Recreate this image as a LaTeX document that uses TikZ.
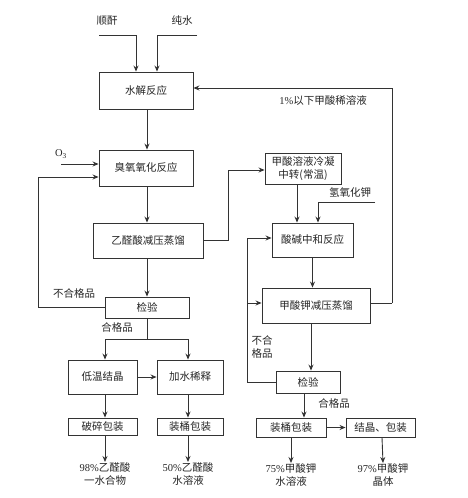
\documentclass[tikz,border=0pt]{standalone}
\usepackage{fontspec}
\setmainfont{Liberation Serif}
\newfontfamily\cjk{Noto Sans CJK SC}
\usetikzlibrary{arrows.meta,calc}
\begin{document}
\begin{tikzpicture}[x=1pt,y=-1pt,
  every node/.style={font=\cjk\fontsize{10.5}{13}\selectfont, text=black!85},
  box/.style={draw=black!80, line width=0.9pt, inner sep=0pt, align=center},
  lbl/.style={inner sep=0pt, align=center},
  arr/.style={draw=black!80, line width=0.9pt, -{Stealth[length=6pt,width=5pt]}},
  ln/.style={draw=black!80, line width=0.9pt}]
\path[use as bounding box, fill=white] (0,0) rectangle (468,498);
% boxes
\node[box, minimum width=94pt, minimum height=37pt] (sj) at (146,90.5) {水解反应};
\node[box, minimum width=94pt, minimum height=36pt] (cy) at (146,168) {臭氧氧化反应};
\node[box, minimum width=110pt, minimum height=35pt] (yq) at (148,240.5) {乙醛酸减压蒸馏};
\node[box, minimum width=84pt, minimum height=21pt] (jy1) at (147,307.5) {检验};
\node[box, minimum width=69pt, minimum height=34pt] (dw) at (102.5,377) {低温结晶};
\node[box, minimum width=66pt, minimum height=34pt] (js) at (190,377) {加水稀释};
\node[box, minimum width=69pt, minimum height=17pt] (ps) at (102.5,426.5) {破碎包装};
\node[box, minimum width=66pt, minimum height=17pt] (zt1) at (190,426.5) {装桶包装};
\node[box, minimum width=76pt, minimum height=31pt] (jslz) at (303,168.5) {甲酸溶液冷凝\\中转(常温)};
\node[box, minimum width=81pt, minimum height=34pt] (sjzh) at (312.5,240) {酸碱中和反应};
\node[box, minimum width=108pt, minimum height=35pt] (jsj) at (316,305.5) {甲酸钾减压蒸馏};
\node[box, minimum width=64pt, minimum height=22pt] (jy2) at (308,382) {检验};
\node[box, minimum width=70pt, minimum height=19pt] (zt2) at (291,427.5) {装桶包装};
\node[box, minimum width=69pt, minimum height=19pt] (jjbz) at (380.5,427.5) {结晶、包装};
% labels
\node[lbl] (lsf) at (107,21) {顺酐};
\node[lbl] (lcs) at (182,21) {纯水};
\node[lbl, font=\fontsize{10.5}{13}\selectfont] (lo3) at (61,154) {O\textsubscript{3}};
\node[lbl] (lbh1) at (74,293) {不合格品};
\node[lbl] (lhg1) at (117,327) {合格品};
\node[lbl] (lxs) at (323,101) {{\rmfamily 1\%}以下甲酸稀溶液};
\node[lbl] (lkoh) at (350,192) {氢氧化钾};
\node[lbl] (lbh2) at (262,347) {不合\\格品};
\node[lbl] (lhg2) at (334,403) {合格品};
\node[lbl, anchor=north] (p1) at (105,462) {{\rmfamily 98\%}乙醛酸\\一水合物};
\node[lbl, anchor=north] (p2) at (188,462) {{\rmfamily 50\%}乙醛酸\\水溶液};
\node[lbl, anchor=north] (p3) at (291,463) {{\rmfamily 75\%}甲酸钾\\水溶液};
\node[lbl, anchor=north] (p4) at (383,463) {{\rmfamily 97\%}甲酸钾\\晶体};
% coordinates
\coordinate (s1) at (99,35);
\coordinate (s2) at (197,35);
\coordinate (o1) at (61,164);
\coordinate (f1) at (38,177);
\coordinate (b1) at (147,339);
\coordinate (f2) at (228,170);
\coordinate (k1) at (375,202);
\coordinate (f3) at (247,238);
\coordinate (f4) at (247,303);
\coordinate (f5) at (392,88);
\coordinate (f6) at (392,303);
% connectors
\draw[arr] (s1) -| ([xshift=-10pt]sj.north);
\draw[arr] (s2) -| ([xshift=11pt]sj.north);
\draw[arr] ([xshift=1pt]sj.south) -- ([xshift=1pt]cy.north);
\draw[arr] (o1) -- (o1 -| cy.west);
\draw[arr] ([xshift=1pt]cy.south) -- ([xshift=1pt]cy.south |- yq.north);
\draw[arr] (jy1.north |- yq.south) -- (jy1.north);
\draw[arr] (jy1.west) -| (f1) -- (f1 -| cy.west);
\draw[ln] (jy1.south) -- (b1);
\draw[arr] (b1) -| ([xshift=2.5pt]dw.north);
\draw[arr] (b1) -| ([xshift=-2pt]js.north);
\draw[arr] (dw.east) -- (js.west);
\draw[arr] ([xshift=2.5pt]dw.south) -- ([xshift=2.5pt]ps.north);
\draw[arr] ([xshift=-2pt]js.south) -- ([xshift=-2pt]zt1.north);
\draw[arr] ([xshift=2.5pt]ps.south) -- (p1.north);
\draw[arr] ([xshift=-2pt]zt1.south) -- (p2.north);
\draw[arr] (yq.east) -| (f2) -- (f2 -| jslz.west);
\draw[arr] ([xshift=-6pt]jslz.south) -- ([xshift=-6pt]jslz.south |- sjzh.north);
\draw[arr] (k1) -| ([xshift=5.5pt]sjzh.north);
\draw[arr] (sjzh.south) -- (sjzh.south |- jsj.north);
\draw[arr] ([xshift=-5pt]jsj.south) -- ([xshift=-5pt]jsj.south |- jy2.north);
\draw[arr] (jy2.west) -| (f3) -- (f3 -| sjzh.west);
\draw[arr] (f4) -- (f4 -| jsj.west);
\draw[ln] (f6 -| jsj.east) -- (f6);
\draw[arr] (f6) -- (f5) -- (f5 -| sj.east);
\draw[arr] ([xshift=-4pt]jy2.south) -- ([xshift=-4pt]jy2.south |- zt2.north);
\draw[arr] (zt2.east) -- (jjbz.west);
\draw[arr] (zt2.south) -- (p3.north);
\draw[arr] ([xshift=1.5pt]jjbz.south) -- (p4.north);
\end{tikzpicture}
\end{document}
